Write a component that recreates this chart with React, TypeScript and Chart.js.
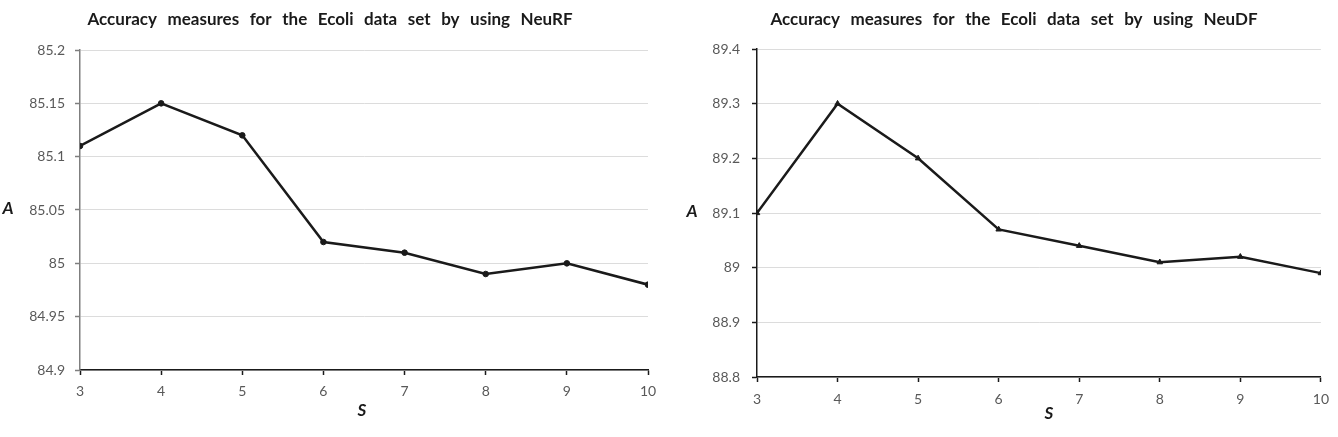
import React, { useEffect, useRef } from "react";
import { Chart, registerables } from "chart.js";

Chart.register(...registerables);

const sValues = [3, 4, 5, 6, 7, 8, 9, 10];
const neuRFAccuracy = [85.11, 85.15, 85.12, 85.02, 85.01, 84.99, 85.0, 84.98];
const neuDFAccuracy = [89.1, 89.3, 89.2, 89.07, 89.04, 89.01, 89.02, 88.99];
const leftTitle = "Accuracy measures for the Ecoli data set by using NeuRF";
const rightTitle = "Accuracy measures for the Ecoli data set by using NeuDF";
const xAxisTitle = "S";
const yAxisTitle = "A";

type Cfg = {
  title: string;
  values: number[];
  yMin: number;
  yMax: number;
  yStep: number;
  pointStyle: string;
  pointRadius: number;
  yAxisColor: string;
  chartLeft: number;
  chartRight: number;
  chartTop: number;
  chartBottom: number;
  yLabelPad: number;
  xLabelPad: number;
  titleX: number;
  titleY: number;
  titleW: number;
  aX: number;
  aY: number;
  sX: number;
  sY: number;
};

const W = 669;
const H = 437;

function LineChart({ cfg }: { cfg: Cfg }) {
  const ref = useRef<HTMLCanvasElement | null>(null);
  useEffect(() => {
    if (!ref.current) return;
    const textPlugin = {
      id: "texts",
      afterDraw(chart: any) {
        const ctx = chart.ctx as CanvasRenderingContext2D;
        ctx.save();
        ctx.fillStyle = "#1a1a1a";
        ctx.textBaseline = "middle";
        ctx.font = "bold 17px Lato";
        const words = cfg.title.split(" ");
        const widths = words.map((w) => ctx.measureText(w).width);
        const sum = widths.reduce((a, b) => a + b, 0);
        const gap = (cfg.titleW - sum) / (words.length - 1);
        let x = cfg.titleX - cfg.titleW / 2;
        ctx.textAlign = "left";
        words.forEach((w, i) => {
          ctx.fillText(w, x, cfg.titleY);
          x += widths[i] + gap;
        });
        ctx.textAlign = "center";
        ctx.font = "italic bold 17px Lato";
        ctx.fillText(yAxisTitle, cfg.aX, cfg.aY);
        ctx.fillText(xAxisTitle, cfg.sX, cfg.sY);
        ctx.restore();
      },
    };
    const chart = new Chart(ref.current, {
      type: "line",
      data: {
        datasets: [
          {
            data: sValues.map((s, i) => ({ x: s, y: cfg.values[i] })),
            borderColor: "#1a1a1a",
            backgroundColor: "#1a1a1a",
            borderWidth: 2.5,
            pointStyle: cfg.pointStyle as any,
            pointRadius: cfg.pointRadius,
            pointBorderWidth: 1,
            tension: 0,
          },
        ],
      },
      options: {
        animation: false,
        responsive: false,
        maintainAspectRatio: false,
        layout: {
          padding: { left: 0, right: W - cfg.chartRight, top: cfg.chartTop, bottom: 0 },
        },
        plugins: {
          legend: { display: false },
          title: { display: false },
          tooltip: { enabled: false },
        },
        scales: {
          x: {
            type: "linear",
            min: 3,
            max: 10,
            ticks: {
              stepSize: 1,
              color: "#595959",
              font: { family: "Lato", size: 14 },
              padding: cfg.xLabelPad,
            },
            grid: {
              drawOnChartArea: false,
              drawTicks: true,
              tickLength: 5,
              tickColor: "#1a1a1a",
              tickWidth: 1.5,
            },
            border: { color: "#1a1a1a", width: 1.5 },
            afterFit(scale: any) {
              scale.height = H - cfg.chartBottom;
            },
          },
          y: {
            type: "linear",
            min: cfg.yMin,
            max: cfg.yMax,
            ticks: {
              stepSize: cfg.yStep,
              color: "#595959",
              font: { family: "Lato", size: 14 },
              padding: cfg.yLabelPad,
              callback: (v: any) => String(Number(Number(v).toFixed(2))),
            },
            grid: {
              color: "#dcdcdc",
              lineWidth: 1,
              drawTicks: true,
              tickLength: 5,
              tickColor: cfg.yAxisColor,
              tickWidth: 1.5,
            },
            border: { color: cfg.yAxisColor, width: 1.5 },
            afterFit(scale: any) {
              scale.width = cfg.chartLeft;
            },
          },
        },
      },
      plugins: [textPlugin],
    });
    return () => chart.destroy();
  }, [cfg]);
  return <canvas ref={ref} width={W} height={H} style={{ display: "block", width: W, height: H }} />;
}

const leftCfg: Cfg = {
  title: leftTitle,
  values: neuRFAccuracy,
  yMin: 84.9,
  yMax: 85.2,
  yStep: 0.05,
  pointStyle: "circle",
  pointRadius: 2.8,
  yAxisColor: "#7f7f7f",
  chartLeft: 80,
  chartRight: 648,
  chartTop: 50,
  chartBottom: 370,
  yLabelPad: 10,
  xLabelPad: 8,
  titleX: 330,
  titleY: 20,
  titleW: 485,
  aX: 8,
  aY: 209,
  sX: 362,
  sY: 411,
};

const rightCfg: Cfg = {
  title: rightTitle,
  values: neuDFAccuracy,
  yMin: 88.8,
  yMax: 89.4,
  yStep: 0.1,
  pointStyle: "triangle",
  pointRadius: 3.2,
  yAxisColor: "#1a1a1a",
  chartLeft: 88,
  chartRight: 660,
  chartTop: 49,
  chartBottom: 377,
  yLabelPad: 12,
  xLabelPad: 9,
  titleX: 345,
  titleY: 20,
  titleW: 487,
  aX: 23,
  aY: 212,
  sX: 380,
  sY: 414,
};

export default function App() {
  useEffect(() => {
    document.body.style.margin = "0";
    document.body.style.background = "#ffffff";
  }, []);
  return (
    <div style={{ display: "flex", width: 1338, height: 437, background: "#fff" }}>
      <LineChart cfg={leftCfg} />
      <LineChart cfg={rightCfg} />
    </div>
  );
}
